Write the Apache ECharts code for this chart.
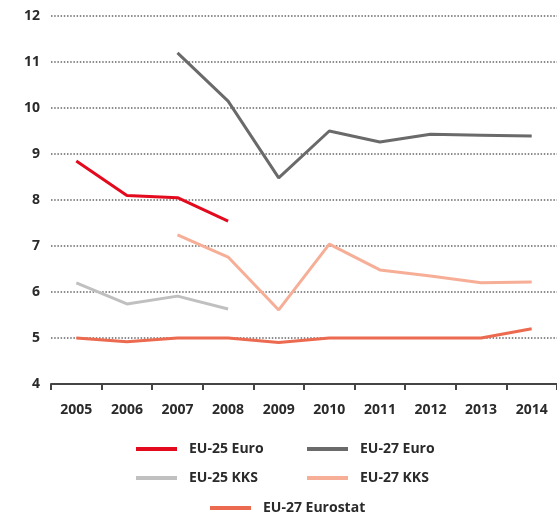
<!DOCTYPE html>
<html>
<head>
<meta charset="utf-8">
<script src="https://cdn.jsdelivr.net/npm/echarts@6/dist/echarts.min.js"></script>
<style>
html,body{margin:0;padding:0;background:#fff;}
#chart{width:557px;height:515px;}
</style>
</head>
<body>
<div id="chart"></div>
<script>
const categories = ['2005','2006','2007','2008','2009','2010','2011','2012','2013','2014'];
const eu25Euro = [8.85, 8.10, 8.05, 7.54, null, null, null, null, null, null];
const eu27Euro = [null, null, 11.20, 10.15, 8.48, 9.50, 9.26, 9.43, 9.41, 9.39];
const eu25KKS = [6.20, 5.74, 5.91, 5.63, null, null, null, null, null, null];
const eu27KKS = [null, null, 7.24, 6.76, 5.61, 7.04, 6.48, 6.35, 6.20, 6.22];
const eu27Eurostat = [5.00, 4.92, 5.00, 5.00, 4.90, 5.00, 5.00, 5.00, 5.00, 5.20];
const yTicks = { min: 4, max: 12, interval: 1 };

const FONT = '"Open Sans", "DejaVu Sans", sans-serif';
const TXT = '#2a2a2a';

function line(name, data, color) {
  return {
    name, type: 'line', data, showSymbol: false, symbol: 'none',
    lineStyle: { color, width: 3 }, itemStyle: { color },
    connectNulls: false, animation: false
  };
}

function legend(names, left, top) {
  return {
    data: names, orient: 'vertical', left, top, padding: 0,
    icon: 'rect', itemWidth: 41, itemHeight: 4, itemGap: 13,
    textStyle: { fontFamily: FONT, fontWeight: 'bold', fontSize: 14, color: TXT, lineHeight: 16, padding: [0, 0, 0, 7] }
  };
}

const chart = echarts.init(document.getElementById('chart'));
chart.setOption({
  animation: false,
  grid: { left: 51, top: 16, width: 510, height: 368 },
  xAxis: {
    type: 'category', data: categories, boundaryGap: true,
    axisLine: { lineStyle: { color: '#444', width: 2 } },
    axisTick: { show: true, length: 6, lineStyle: { color: '#444', width: 2 } },
    axisLabel: { fontFamily: FONT, fontWeight: 'bold', fontSize: 14, color: TXT, margin: 19 }
  },
  yAxis: {
    type: 'value', min: yTicks.min, max: yTicks.max, interval: yTicks.interval,
    axisLine: { show: false }, axisTick: { show: false },
    axisLabel: { fontFamily: FONT, fontWeight: 'bold', fontSize: 14, color: TXT, margin: 11 },
    splitLine: {
      show: true,
      showMinLine: false,
      lineStyle: { color: '#666', width: 1.5, type: [1.5, 1.7] }
    }
  },
  legend: [
    legend(['EU-25 Euro', 'EU-25 KKS'], 136, 441),
    legend(['EU-27 Euro', 'EU-27 KKS'], 307, 441),
    legend(['EU-27 Eurostat'], 210, 500)
  ],
  series: [
    line('EU-25 Euro', eu25Euro, '#e30a1e'),
    line('EU-27 Euro', eu27Euro, '#6a6a6a'),
    line('EU-25 KKS', eu25KKS, '#c0c0c0'),
    line('EU-27 KKS', eu27KKS, '#f7ae96'),
    line('EU-27 Eurostat', eu27Eurostat, '#ec6a50')
  ]
});
</script>
</body>
</html>
